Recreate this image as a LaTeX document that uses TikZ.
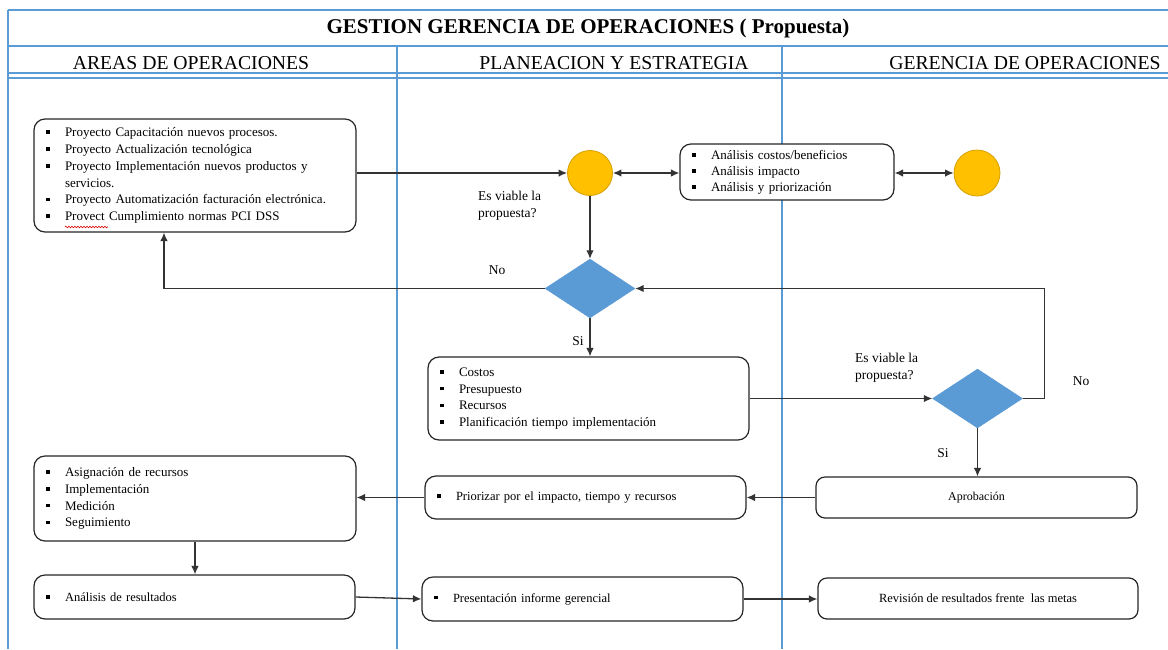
\documentclass[tikz,border=0pt]{standalone}
\usepackage{fontspec}
\setmainfont{Liberation Serif}
\usetikzlibrary{shapes.geometric,arrows.meta,decorations.pathmorphing}

\definecolor{lane}{RGB}{91,155,213}
\definecolor{gold}{RGB}{255,192,0}
\definecolor{goldedge}{RGB}{214,160,0}
\definecolor{decision}{RGB}{91,155,213}

% bullet marker with a hanging gap before the item text
\newcommand{\bul}{\makebox[19pt][l]{\raisebox{2.6pt}{\rule{3.6pt}{3.6pt}}}}
\newcommand{\cont}{\hspace*{19pt}}

\tikzset{
  lanethin/.style={draw=lane, line width=1.1pt},
  lanethick/.style={draw=lane, line width=2.6pt},
  box/.style={draw=black!85, line width=1.2pt, rounded corners=11pt, fill=white,
              inner xsep=12pt, inner ysep=0pt, align=left},
  cbox/.style={draw=black!85, line width=1.2pt, rounded corners=9pt, fill=white,
               inner sep=0pt, align=center},
  junction/.style={circle, fill=gold, draw=goldedge, line width=0.8pt, inner sep=0pt},
  decide/.style={diamond, fill=decision, draw=decision, inner sep=0pt,
                 minimum width=90pt, minimum height=59pt},
  tip/.tip={Latex[length=8.5pt,width=7.5pt]},
  conn/.style={draw=black!80, line width=1.3pt, -tip},
  conn2/.style={draw=black!80, line width=1.3pt, tip-tip},
  lbl/.style={font=\fontsize{13.5}{17}\selectfont, align=left, inner sep=0pt},
  lanehead/.style={font=\fontsize{19.7}{22}\selectfont, inner sep=0pt},
}

\begin{document}
\begin{tikzpicture}[x=1pt,y=-1pt]
\useasboundingbox (0,0) rectangle (1168,649);

% swimlane frame
\draw[lanethin] (8,10) -- (1168,10);
\draw[lanethin] (8,10) -- (8,649);
\draw[lanethick] (8,46) -- (782,46);
\draw[lanethin] (782,46) -- (1168,46);
\draw[lanethick] (8,46) -- (8,76);
\draw[lanethin] (8,73) -- (1168,73);
\draw[lanethin] (8,78) -- (1168,78);
\draw[lanethin] (397,46) -- (397,649);
\draw[lanethick] (782,46) -- (782,649);

\node[font=\bfseries\fontsize{21}{23}\selectfont, inner sep=0pt] (title) at (588,28)
  {GESTION GERENCIA DE OPERACIONES ( Propuesta)};
\node[lanehead] (h1) at (191,63) {AREAS DE OPERACIONES};
\node[lanehead] (h2) at (614,63) {PLANEACION Y ESTRATEGIA};
\node[lanehead] (h3) at (1025,63) {GERENCIA DE OPERACIONES};

% process boxes
\node[box, text width=298pt, minimum height=113pt,
      font=\fontsize{13}{16.8}\selectfont] (proj) at (195,175.5)
  {\bul Proyecto Capacitación nuevos procesos.\\
   \bul Proyecto Actualización tecnológica\\
   \bul Proyecto Implementación nuevos productos y\\
   \cont servicios.\\
   \bul Proyecto Automatización facturación electrónica.\\
   \bul Provect Cumplimiento normas PCI DSS};

\node[box, text width=190pt, minimum height=56pt,
      font=\fontsize{13}{16}\selectfont] (anal) at (787,172)
  {\bul Análisis costos/beneficios\\
   \bul Análisis impacto\\
   \bul Análisis y priorización};

\node[box, text width=297pt, minimum height=83pt,
      font=\fontsize{13}{16.8}\selectfont] (cost) at (588.5,398.5)
  {\bul Costos\\
   \bul Presupuesto\\
   \bul Recursos\\
   \bul Planificación tiempo implementación};

\node[box, text width=298pt, minimum height=85pt,
      font=\fontsize{13}{16.8}\selectfont] (asig) at (195,498.5)
  {\bul Asignación de recursos\\
   \bul Implementación\\
   \bul Medición\\
   \bul Seguimiento};

\node[box, text width=297pt, minimum height=43pt,
      font=\fontsize{12.5}{15}\selectfont] (prior) at (585.5,497.5)
  {\bul Priorizar por el impacto, tiempo y recursos};

\node[box, text width=297pt, minimum height=44pt,
      font=\fontsize{12.5}{15}\selectfont] (res) at (194.5,597)
  {\bul Análisis de resultados};

\node[box, text width=297pt, minimum height=44pt,
      font=\fontsize{12.5}{15}\selectfont] (pres) at (582.5,599)
  {\bul Presentación informe gerencial};

\node[cbox, minimum width=321pt, minimum height=41pt,
      font=\fontsize{12}{14}\selectfont] (aprob) at (976.5,497.5) {Aprobación};

\node[cbox, minimum width=320pt, minimum height=41pt,
      font=\fontsize{12.5}{14}\selectfont] (rev) at (978,598.5)
  {Revisión de resultados frente \ las metas};

% junctions and decisions
\node[junction, minimum size=45pt] (c1) at (590,173) {};
\node[junction, minimum size=46pt] (c2) at (977,173) {};
\node[decide] (d1) at (590,288.5) {};
\node[decide] (d2) at (977.5,398.5) {};

% connectors
\draw[conn] (proj.east |- c1.west) -- (c1.west);
\draw[conn2] (c1.east) -- (anal.west |- c1.east);
\draw[conn2] (anal.east |- c2.west) -- (c2.west);
\draw[conn] (c1.south) -- (d1.north);
\draw[conn] (d1.west) -| ([xshift=-31pt]proj.south);
\draw[conn] (d1.south) -- (cost.north -| d1.south);
\draw[conn] (cost.east |- d2.west) -- (d2.west);
\draw[conn] (d2.east) -- ++(22,0) |- (d1.east);
\draw[conn] (d2.south) -- (aprob.north -| d2.south);
\draw[conn] (aprob.west) -- (prior.east);
\draw[conn] (prior.west) -- (asig.east |- prior.west);
\draw[conn] (asig.south) -- (res.north -| asig.south);
\draw[conn] (res.east) -- (pres.west);
\draw[conn] (pres.east) -- (rev.west |- pres.east);

% labels
\node[lbl, anchor=west] (q1) at (478,205.5) {Es viable la\\propuesta?};
\node[lbl] (no1) at (497,270) {No};
\node[lbl] (si1) at (578,341) {Si};
\node[lbl, anchor=west] (q2) at (855,367.5) {Es viable la\\propuesta?};
\node[lbl] (no2) at (1081,381) {No};
\node[lbl] (si2) at (943,453) {Si};

% spell-check squiggle under the misspelled word
\draw[red!85!black, line width=0.6pt,
      decorate, decoration={snake, amplitude=0.8pt, segment length=3pt}]
  (65,227) -- (108,227);
\end{tikzpicture}
\end{document}
